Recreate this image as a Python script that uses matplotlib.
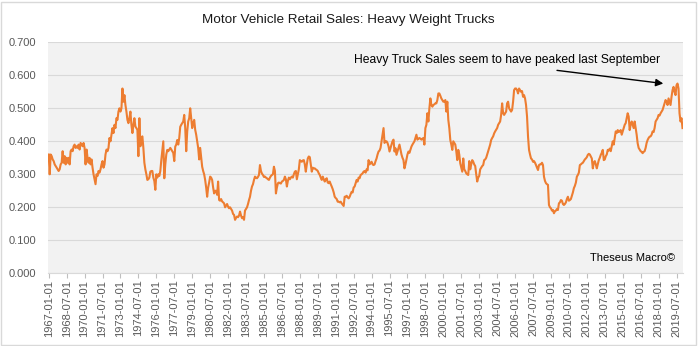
import matplotlib
matplotlib.use("Agg")
import matplotlib.pyplot as plt
import numpy as np
import pandas as pd
from matplotlib.patches import Rectangle

plt.rcParams['font.family'] = ['Liberation Sans', 'DejaVu Sans']

# monthly values, 1967-01 .. 2020-01 (one row per year)
sales = [
    0.360, 0.300, 0.360, 0.355, 0.345, 0.340, 0.330, 0.325, 0.320, 0.315, 0.310, 0.315,  # 1967
    0.330, 0.335, 0.370, 0.335, 0.355, 0.330, 0.350, 0.335, 0.350, 0.330, 0.370, 0.375,  # 1968
    0.370, 0.385, 0.390, 0.380, 0.385, 0.380, 0.390, 0.375, 0.395, 0.390, 0.385, 0.395,  # 1969
    0.380, 0.330, 0.375, 0.350, 0.335, 0.350, 0.330, 0.345, 0.320, 0.300, 0.285, 0.270,  # 1970
    0.300, 0.295, 0.310, 0.305, 0.315, 0.330, 0.340, 0.320, 0.330, 0.360, 0.375, 0.370,  # 1971
    0.380, 0.410, 0.400, 0.420, 0.440, 0.425, 0.450, 0.440, 0.470, 0.465, 0.490, 0.500,  # 1972
    0.490, 0.500, 0.560, 0.520, 0.540, 0.510, 0.490, 0.465, 0.455, 0.470, 0.490, 0.450,  # 1973
    0.425, 0.450, 0.470, 0.445, 0.440, 0.435, 0.355, 0.470, 0.385, 0.410, 0.415, 0.380,  # 1974
    0.335, 0.315, 0.300, 0.283, 0.285, 0.290, 0.308, 0.310, 0.310, 0.290, 0.280, 0.253,  # 1975
    0.300, 0.290, 0.300, 0.295, 0.310, 0.343, 0.370, 0.400, 0.288, 0.330, 0.360, 0.374,  # 1976
    0.370, 0.375, 0.380, 0.375, 0.370, 0.365, 0.340, 0.384, 0.390, 0.404, 0.390, 0.410,  # 1977
    0.444, 0.450, 0.455, 0.460, 0.480, 0.440, 0.370, 0.430, 0.460, 0.470, 0.500, 0.470,  # 1978
    0.440, 0.455, 0.465, 0.435, 0.420, 0.400, 0.380, 0.345, 0.380, 0.350, 0.323, 0.310,  # 1979
    0.300, 0.283, 0.260, 0.232, 0.260, 0.275, 0.293, 0.290, 0.283, 0.260, 0.242, 0.250,  # 1980
    0.250, 0.238, 0.278, 0.222, 0.220, 0.225, 0.218, 0.215, 0.212, 0.200, 0.205, 0.210,  # 1981
    0.202, 0.197, 0.200, 0.195, 0.190, 0.180, 0.177, 0.162, 0.168, 0.172, 0.170, 0.175,  # 1982
    0.187, 0.175, 0.167, 0.170, 0.162, 0.190, 0.195, 0.200, 0.210, 0.222, 0.232, 0.250,  # 1983
    0.263, 0.270, 0.283, 0.293, 0.290, 0.288, 0.292, 0.298, 0.328, 0.310, 0.302, 0.298,  # 1984
    0.292, 0.293, 0.290, 0.288, 0.285, 0.283, 0.290, 0.295, 0.298, 0.300, 0.323, 0.310,  # 1985
    0.242, 0.260, 0.273, 0.275, 0.273, 0.272, 0.278, 0.280, 0.283, 0.293, 0.285, 0.263,  # 1986
    0.280, 0.290, 0.285, 0.290, 0.293, 0.290, 0.300, 0.308, 0.310, 0.285, 0.300, 0.315,  # 1987
    0.343, 0.340, 0.338, 0.342, 0.343, 0.330, 0.308, 0.330, 0.348, 0.354, 0.352, 0.330,  # 1988
    0.308, 0.320, 0.318, 0.318, 0.315, 0.313, 0.310, 0.303, 0.298, 0.290, 0.283, 0.293,  # 1989
    0.285, 0.278, 0.285, 0.288, 0.275, 0.273, 0.278, 0.270, 0.263, 0.255, 0.245, 0.232,  # 1990
    0.228, 0.225, 0.217, 0.217, 0.215, 0.217, 0.212, 0.208, 0.204, 0.232, 0.232, 0.235,  # 1991
    0.230, 0.227, 0.232, 0.240, 0.247, 0.245, 0.260, 0.263, 0.273, 0.283, 0.278, 0.290,  # 1992
    0.288, 0.298, 0.300, 0.303, 0.308, 0.310, 0.305, 0.315, 0.312, 0.343, 0.330, 0.335,  # 1993
    0.338, 0.330, 0.328, 0.330, 0.340, 0.348, 0.360, 0.369, 0.372, 0.380, 0.400, 0.420,  # 1994
    0.440, 0.395, 0.400, 0.400, 0.395, 0.385, 0.369, 0.380, 0.390, 0.400, 0.405, 0.369,  # 1995
    0.379, 0.359, 0.369, 0.380, 0.390, 0.375, 0.360, 0.350, 0.343, 0.318, 0.330, 0.345,  # 1996
    0.360, 0.369, 0.365, 0.375, 0.384, 0.390, 0.395, 0.400, 0.410, 0.420, 0.405, 0.408,  # 1997
    0.410, 0.408, 0.405, 0.408, 0.410, 0.390, 0.440, 0.450, 0.485, 0.460, 0.500, 0.530,  # 1998
    0.510, 0.505, 0.510, 0.512, 0.515, 0.515, 0.525, 0.545, 0.545, 0.538, 0.530, 0.525,  # 1999
    0.520, 0.520, 0.525, 0.490, 0.520, 0.465, 0.440, 0.404, 0.390, 0.374, 0.400, 0.395,  # 2000
    0.390, 0.370, 0.343, 0.374, 0.360, 0.333, 0.320, 0.308, 0.348, 0.315, 0.310, 0.303,  # 2001
    0.300, 0.298, 0.340, 0.315, 0.330, 0.343, 0.338, 0.330, 0.325, 0.300, 0.278, 0.290,  # 2002
    0.295, 0.315, 0.320, 0.325, 0.328, 0.343, 0.345, 0.350, 0.360, 0.369, 0.380, 0.390,  # 2003
    0.404, 0.410, 0.415, 0.424, 0.430, 0.435, 0.440, 0.450, 0.455, 0.460, 0.480, 0.515,  # 2004
    0.485, 0.480, 0.485, 0.490, 0.515, 0.520, 0.500, 0.495, 0.490, 0.495, 0.520, 0.555,  # 2005
    0.560, 0.560, 0.555, 0.545, 0.560, 0.555, 0.550, 0.552, 0.535, 0.540, 0.530, 0.510,  # 2006
    0.475, 0.414, 0.374, 0.360, 0.348, 0.345, 0.338, 0.340, 0.335, 0.328, 0.320, 0.313,  # 2007
    0.328, 0.330, 0.330, 0.335, 0.328, 0.293, 0.280, 0.273, 0.270, 0.268, 0.207, 0.200,  # 2008
    0.197, 0.190, 0.192, 0.182, 0.188, 0.190, 0.195, 0.192, 0.212, 0.215, 0.222, 0.220,  # 2009
    0.210, 0.207, 0.210, 0.215, 0.225, 0.232, 0.220, 0.222, 0.225, 0.235, 0.245, 0.258,  # 2010
    0.265, 0.275, 0.293, 0.298, 0.305, 0.328, 0.330, 0.333, 0.335, 0.340, 0.345, 0.348,  # 2011
    0.352, 0.359, 0.362, 0.360, 0.354, 0.348, 0.318, 0.335, 0.340, 0.330, 0.318, 0.330,  # 2012
    0.343, 0.350, 0.359, 0.365, 0.374, 0.343, 0.345, 0.355, 0.360, 0.374, 0.372, 0.378,  # 2013
    0.370, 0.385, 0.400, 0.390, 0.410, 0.430, 0.425, 0.434, 0.428, 0.430, 0.434, 0.420,  # 2014
    0.430, 0.440, 0.450, 0.455, 0.470, 0.485, 0.475, 0.434, 0.450, 0.460, 0.450, 0.440,  # 2015
    0.460, 0.440, 0.420, 0.394, 0.380, 0.375, 0.370, 0.368, 0.364, 0.368, 0.370, 0.380,  # 2016
    0.395, 0.404, 0.410, 0.414, 0.415, 0.420, 0.430, 0.428, 0.440, 0.460, 0.465, 0.470,  # 2017
    0.480, 0.478, 0.485, 0.490, 0.495, 0.505, 0.515, 0.525, 0.520, 0.510, 0.530, 0.520,  # 2018
    0.510, 0.535, 0.555, 0.565, 0.550, 0.540, 0.570, 0.575, 0.560, 0.485, 0.460, 0.470,  # 2019
    0.440,                                                                              # 2020
]
start_month = "1967-01-01"
tick_step = 18

title = "Motor Vehicle Retail Sales: Heavy Weight Trucks"
note = "Heavy Truck Sales seem to have peaked last September"
credit = "Theseus Macro\u00a9"

months = pd.date_range(start_month, periods=len(sales), freq="MS")
idx = np.arange(len(sales))
tick_pos = idx[::tick_step]
tick_lab = months[::tick_step].strftime("%Y-%m-%d")

fig = plt.figure(figsize=(6.98, 3.46), dpi=100)
ax = fig.add_axes([47.7 / 698, 1 - 273.3 / 346, (683 - 47.7) / 698, (273.3 - 42.3) / 346])
ax.set_facecolor("#F2F2F2")

ax.plot(idx, sales, color="#ED7D31", lw=1.5, solid_joinstyle="round")

ax.set_xlim(-1, len(sales) - 0.5)
ax.set_ylim(0, 0.7)
ax.set_yticks(np.arange(0, 0.71, 0.1))
ax.set_yticklabels(["%.3f" % v for v in np.arange(0, 0.71, 0.1)])
ax.set_xticks(tick_pos)
ax.set_xticklabels(tick_lab, rotation=90)
ax.grid(axis="y", color="#D9D9D9", lw=0.8)
ax.set_axisbelow(True)
for s in ["top", "left", "right"]:
    ax.spines[s].set_visible(False)
ax.spines["bottom"].set_color("#D9D9D9")
ax.spines["bottom"].set_linewidth(0.8)
ax.tick_params(axis="y", length=0, pad=8, labelsize=8, labelcolor="#595959")
ax.tick_params(axis="x", length=3.6, width=0.8, color="#BFBFBF", pad=1,
               labelsize=8, labelcolor="#595959")

fig.text(348.7 / 698, 1 - 23.3 / 346, title, ha="center", va="baseline",
         fontsize=9.7, color="#1a1a1a")

ax.text(306.3, 0.638, note, ha="left", va="baseline", fontsize=8.7, color="black")
ax.annotate("", xy=(619.5, 0.574), xytext=(507.3, 0.616),
            arrowprops=dict(arrowstyle="-|>", color="black", lw=1, mutation_scale=11))
ax.text(628.6, 0.037, credit, ha="right", va="baseline", fontsize=8, color="black")

fig.patches.append(Rectangle((0.7 / 698, 1.5 / 346), 695 / 698, 343 / 346,
                             transform=fig.transFigure, fill=False,
                             edgecolor="#D9D9D9", lw=1))

fig.savefig("out.png", dpi=100)
